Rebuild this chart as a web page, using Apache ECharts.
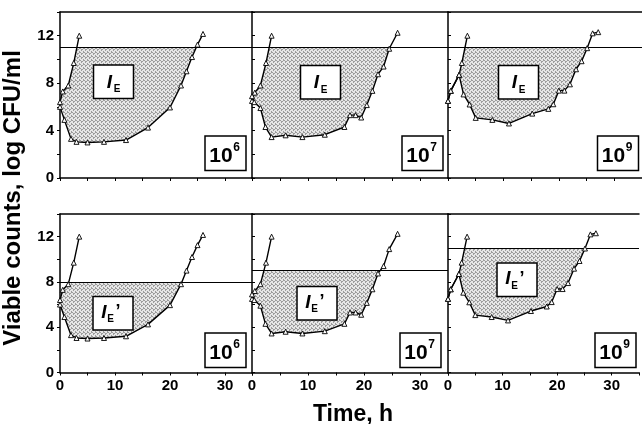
<!DOCTYPE html>
<html><head><meta charset="utf-8">
<script src="https://cdn.jsdelivr.net/npm/echarts@6/dist/echarts.min.js"></script>
<style>html,body{margin:0;padding:0;background:#fff}#c{width:642px;height:424px}</style>
</head><body><div id="c"></div><script>
// ---------- data ----------
const control1 = [[0,6.4],[0.5,7.3],[1.5,7.8],[2.5,9.7],[3.5,12]];
const treated1 = [[0,6.0],[0.8,4.9],[2,3.3],[3,3.05],[5,3.0],[8,3.05],[12,3.2],[16,4.25],[20,5.95],[22,7.8],[23,9.0],[24,10.2],[25,11.25],[26,12.15]];
const control2 = [[0,6.5],[0.5,7.2],[1.5,7.8],[2.5,9.7],[3.5,12]];
const treated2 = [[0,6.9],[0.4,6.4],[1.5,5.9],[2.4,4.3],[3.5,3.45],[6,3.6],[9,3.45],[13,3.65],[16.5,4.3],[17.5,5.3],[18.5,5.3],[19.5,5.1],[20.5,6.15],[21.5,7.35],[22.5,8.75],[23.5,9.4],[24.5,10.9],[26,12.25]];
const control3 = [[0,6.5],[0.5,7.35],[2,8.7],[2.5,9.7],[3.5,12]];
const treated3 = [[0,6.5],[0.5,7.35],[2,8.7],[2.8,7.05],[3.9,6.2],[5,5.07],[8,4.9],[11,4.6],[15.2,5.43],[18.1,5.83],[19,6.22],[20,7.37],[21,7.37],[22,7.9],[23.1,9.17],[24.1,9.85],[25.1,10.95],[26.1,12.2],[27.1,12.3]];
const thresholdsTop = [11, 11, 11];
const thresholdsBottom = [8, 9, 11];
const inoculumExponents = ['6', '7', '9'];
const xTickLabels = [0, 10, 20, 30];
const yTickLabels = [0, 4, 8, 12];
const xRange = [0, 35];
const yRange = [0, 14];

const controls = [control1, control2, control3];
const treateds = [treated1, treated2, treated3];

// ---------- layout ----------
const colLeft = [60, 252, 448];
const colWidth = [192.5, 196, 196];
const rowTop = [12, 214];
const rowHeight = [166, 158.5];
const FONT = '"Liberation Sans", Arial, Helvetica, sans-serif';

// stipple pattern
const pc = document.createElement('canvas');
pc.width = 4; pc.height = 4;
const pctx = pc.getContext('2d');
pctx.fillStyle = '#e6e6e6'; pctx.fillRect(0,0,4,4);
pctx.fillStyle = '#9c9c9c';
[[0,0],[2,1],[1,2],[3,3],[3,0],[1,1]].forEach(p => pctx.fillRect(p[0], p[1], 1, 1));
const pattern = {image: pc, repeat: 'repeat'};

function shadePolygon(control, treated, T) {
  const cross = (a, b) => [a[0] + (T - a[1]) * (b[0] - a[0]) / (b[1] - a[1]), T];
  let j = -1;
  for (let k = 0; k < treated.length - 1; k++) if (treated[k][1] < T && treated[k+1][1] >= T) j = k;
  let i = -1;
  for (let k = 0; k < control.length - 1; k++) if (control[k][1] < T && control[k+1][1] >= T) { i = k; break; }
  const pts = [];
  for (let k = 0; k <= j; k++) pts.push(treated[k]);
  pts.push(cross(treated[j], treated[j+1]));
  pts.push(cross(control[i], control[i+1]));
  for (let k = i; k >= 0; k--) pts.push(control[k]);
  return pts;
}

const grid = [], xAxis = [], yAxis = [], series = [];
for (let r = 0; r < 2; r++) {
  for (let c = 0; c < 3; c++) {
    const g = r * 3 + c;
    grid.push({left: colLeft[c], top: rowTop[r], width: colWidth[c], height: rowHeight[r], containLabel: false});
    xAxis.push({
      gridIndex: g, type: 'value', min: xRange[0], max: xRange[1], interval: 5,
      axisLine: {show: true, onZero: false, lineStyle: {color: '#000', width: 1.5}},
      axisTick: {show: true, inside: false, length: 3, lineStyle: {color: '#000', width: 1}},
      axisLabel: {show: r === 1, margin: 6, color: '#000', fontFamily: FONT, fontWeight: 'bold', fontSize: 15,
        formatter: v => xTickLabels.includes(v) ? String(v) : ''},
      splitLine: {show: false}
    });
    yAxis.push({
      gridIndex: g, type: 'value', min: yRange[0], max: yRange[1], interval: 2,
      axisLine: {show: true, onZero: false, lineStyle: {color: '#000', width: 1.5}},
      axisTick: {show: true, inside: c > 0, length: 3, lineStyle: {color: '#000', width: 1}},
      axisLabel: {show: c === 0, margin: 6, color: '#000', fontFamily: FONT, fontWeight: 'bold', fontSize: 15,
        formatter: v => yTickLabels.includes(v) ? String(v) : ''},
      splitLine: {show: false}
    });
  }
}
// top border axes
for (let g = 0; g < 6; g++) {
  xAxis.push({
    gridIndex: g, type: 'value', position: 'top', min: xRange[0], max: xRange[1],
    axisLine: {show: true, onZero: false, lineStyle: {color: '#000', width: 1.5}},
    axisTick: {show: false}, axisLabel: {show: false}, splitLine: {show: false}
  });
}

const lineCommon = {
  type: 'line', symbol: 'triangle', symbolSize: 5, showSymbol: true,
  lineStyle: {color: '#000', width: 1.4},
  itemStyle: {color: '#fff', borderColor: '#000', borderWidth: 0.9},
  silent: true, z: 3
};

for (let r = 0; r < 2; r++) {
  for (let c = 0; c < 3; c++) {
    const g = r * 3 + c;
    const T = r === 0 ? thresholdsTop[c] : thresholdsBottom[c];
    const poly = shadePolygon(controls[c], treateds[c], T);
    series.push({
      type: 'custom', xAxisIndex: g, yAxisIndex: g, data: [[0, 0]], silent: true, z: 1,
      renderItem: (params, api) => ({
        type: 'polygon',
        shape: {points: poly.map(p => api.coord(p))},
        style: {fill: pattern, stroke: null}
      })
    });
    series.push(Object.assign({}, lineCommon, {
      xAxisIndex: g, yAxisIndex: g, data: controls[c]
    }));
    series.push(Object.assign({}, lineCommon, {
      xAxisIndex: g, yAxisIndex: g, data: treateds[c],
      markLine: {silent: true, symbol: 'none', label: {show: false},
        lineStyle: {color: '#000', width: 1, type: 'solid'}, data: [{yAxis: T}], z: 2}
    }));
  }
}

// ---------- annotation boxes ----------
const graphic = [];
const ieBoxPos = [[[93.5,65],[300.5,65.5],[498.5,65.5]], [[93,296.5],[297,286.5],[497,263]]];
const powBoxPos = [[[205,136],[402,136],[597.5,136]], [[205,333],[400,333],[595,333]]];
const ZZ = 100;

for (let r = 0; r < 2; r++) {
  for (let c = 0; c < 3; c++) {
    const [bx, by] = ieBoxPos[r][c];
    const children = [
      {type: 'rect', z: ZZ, shape: {x: 0, y: 0, width: 40, height: 33.5}, style: {fill: '#fff', stroke: '#000', lineWidth: 1.5}}
    ];
    if (r === 0) {
      children.push({type: 'text', z: ZZ + 1, x: 16, y: 17.5, style: {text: 'I', font: 'italic bold 19px ' + FONT, fill: '#000', align: 'center', verticalAlign: 'middle'}});
      children.push({type: 'text', z: ZZ + 1, x: 23.5, y: 24.5, style: {text: 'E', font: 'bold 10px ' + FONT, fill: '#000', align: 'center', verticalAlign: 'middle'}});
    } else {
      children.push({type: 'text', z: ZZ + 1, x: 11, y: 16, style: {text: 'I', font: 'italic bold 19px ' + FONT, fill: '#000', align: 'center', verticalAlign: 'middle'}});
      children.push({type: 'text', z: ZZ + 1, x: 17.5, y: 23, style: {text: 'E', font: 'bold 10px ' + FONT, fill: '#000', align: 'center', verticalAlign: 'middle'}});
      children.push({type: 'text', z: ZZ + 1, x: 25, y: 16, style: {text: '\u2019', font: 'bold 18px ' + FONT, fill: '#000', align: 'center', verticalAlign: 'middle'}});
    }
    graphic.push({type: 'group', x: bx, y: by, children, z: ZZ});

    const [px, py] = powBoxPos[r][c];
    graphic.push({type: 'group', x: px, y: py, z: ZZ, children: [
      {type: 'rect', z: ZZ, shape: {x: 0, y: 0, width: 41, height: 34.5}, style: {fill: '#fff', stroke: '#000', lineWidth: 1.5}},
      {type: 'text', z: ZZ + 1, x: 16, y: 20, style: {text: '10', font: 'bold 21px ' + FONT, fill: '#000', align: 'center', verticalAlign: 'middle'}},
      {type: 'text', z: ZZ + 1, x: 31.5, y: 11.5, style: {text: inoculumExponents[c], font: 'bold 12px ' + FONT, fill: '#000', align: 'center', verticalAlign: 'middle'}}
    ]});
  }
}
// axis titles
graphic.push({type: 'text', x: 13, y: 198, rotation: Math.PI / 2, z: ZZ,
  style: {text: 'Viable counts, log CFU/ml', font: 'bold 24px ' + FONT, fill: '#000', align: 'center', verticalAlign: 'middle'}});
graphic.push({type: 'text', x: 353, y: 415, z: ZZ,
  style: {text: 'Time, h', font: 'bold 23px ' + FONT, fill: '#000', align: 'center', verticalAlign: 'middle'}});

const chart = echarts.init(document.getElementById('c'), null, {renderer: 'canvas'});
chart.setOption({
  animation: false,
  backgroundColor: '#fff',
  grid, xAxis, yAxis, series, graphic
});
</script></body></html>
